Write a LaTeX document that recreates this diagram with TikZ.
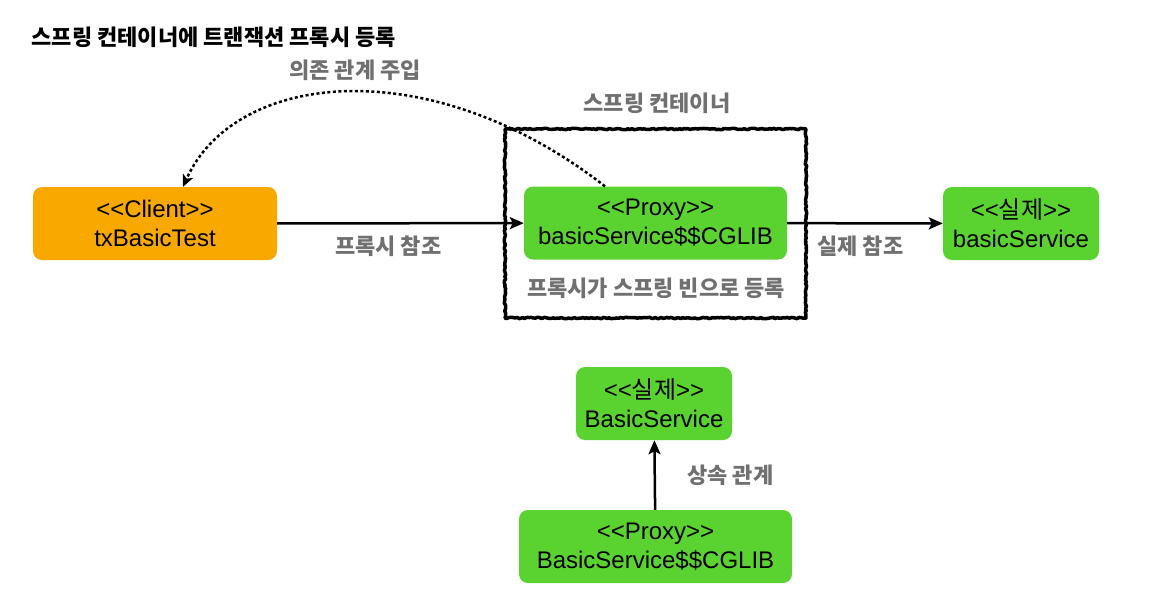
\documentclass[tikz,border=0pt]{standalone}
\usepackage{fontspec}
\setmainfont{Liberation Sans}
\newfontfamily\kr{Noto Sans CJK KR}
\usetikzlibrary{arrows.meta,decorations.pathmorphing}
\definecolor{clientorange}{HTML}{F9A800}
\definecolor{beangreen}{HTML}{5AD330}
\definecolor{notegray}{HTML}{707070}

\begin{document}
\begin{tikzpicture}[x=1pt,y=-1pt]
        \useasboundingbox (0,0) rectangle (1165,592);
        \begin{scope}
            \tikzstyle{every node}=[draw=black, line width=3.5pt, line join=round, decorate, decoration={random steps, segment length=2pt, amplitude=0.7pt}]
            \node[minimum width=301pt, minimum height=189pt] (c) at (655.5,223.5) {};
        \end{scope}
        \begin{scope}
            \tikzstyle{every node}=[rounded corners=9pt, text=black, align=center, inner sep=0pt, minimum height=73pt, font=\fontsize{24}{29}\selectfont]
            \node[fill=clientorange, minimum width=244pt] (0) at (155,223.5) {<{}<Client>{}>\\txBasicTest};
            \node[fill=beangreen, minimum width=263pt] (1) at (655.5,223) {<{}<Proxy>{}>\\basicService\$\$CGLIB};
            \node[fill=beangreen, minimum width=156pt] (2) at (1021,223.5) {<{}<{\kr 실제}>{}>\\basicService};
            \node[fill=beangreen, minimum width=156pt] (3) at (654,403.5) {<{}<{\kr 실제}>{}>\\BasicService};
            \node[fill=beangreen, minimum width=273pt] (4) at (655.5,546.5) {<{}<Proxy>{}>\\BasicService\$\$CGLIB};
        \end{scope}
        \begin{scope}
            \tikzstyle{every node}=[text=notegray, font=\kr\bfseries\fontsize{22}{26}\selectfont]
            \node[text=black, anchor=west] (t) at (28,37) {스프링 컨테이너에 트랜잭션 프록시 등록};
            \node (n0) at (355,70) {의존 관계 주입};
            \node (n1) at (657,103) {스프링 컨테이너};
            \node (n2) at (656,288) {프록시가 스프링 빈으로 등록};
        \end{scope}
        \begin{scope}
            \tikzstyle{every edge}=[draw, line width=2.5pt, -{Stealth[length=14pt, width=12pt, inset=3pt]}]
            \tikzstyle{every node}=[text=notegray, font=\kr\bfseries\fontsize{22}{26}\selectfont]
            \path
            (0) edge node[pos=0.45, below=8pt] (n3) {프록시 참조} (1)
            (1) edge node[pos=0.47, below=8pt] (n4) {실제 참조} (2)
            (4) edge node[right=28pt] (n5) {상속 관계} (3);
            \draw[line width=2.5pt, dash pattern=on 3pt off 2.5pt, -{Stealth[length=12pt, width=11pt, inset=3pt]}]
            ([xshift=-50.5pt]1.north) .. controls +(-175,-136) and +(52,-116) .. ([xshift=28pt]0.north);
        \end{scope}
    \end{tikzpicture}
\end{document}
